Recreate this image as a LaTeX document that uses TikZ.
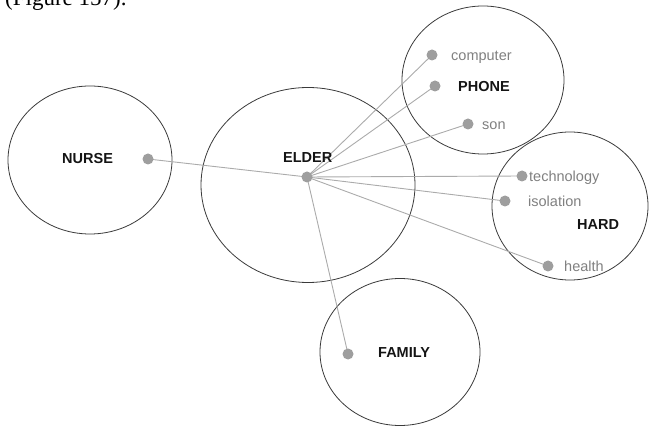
\documentclass[tikz,border=0pt]{standalone}
\usepackage{fontspec}
\setmainfont{Liberation Sans}
\newfontfamily\capfont{Liberation Serif}
\usetikzlibrary{shapes.geometric}

\definecolor{ringcol}{HTML}{3A3A3A}
\definecolor{linkcol}{HTML}{ABABAB}
\definecolor{dotcol}{HTML}{9E9E9E}
\definecolor{termcol}{HTML}{808080}
\definecolor{headcol}{HTML}{141414}

\tikzset{
  ring/.style={ellipse, draw=ringcol, line width=0.8pt, inner sep=0pt, outer sep=0pt},
  dot/.style={circle, fill=dotcol, inner sep=0pt, minimum size=11pt},
  link/.style={draw=linkcol, line width=0.9pt},
  head/.style={anchor=base west, inner sep=0pt, text=headcol, font=\fontsize{14.5}{16}\selectfont\bfseries},
  term/.style={anchor=base west, inner sep=0pt, text=termcol, font=\fontsize{14.5}{16}\selectfont}
}

\begin{document}
\begin{tikzpicture}[x=1pt,y=-1pt]
  \useasboundingbox (0,0) rectangle (650,427);

  % caption line of the preceding paragraph, cut off at the top
  \begin{scope}
    \clip (0,0) rectangle (650,427);
    \node[anchor=base west, inner sep=0pt, font=\capfont\fontsize{23}{25}\selectfont] (cap) at (5,6) {(Figure 157).};
  \end{scope}

  % clusters
  \node[ring, minimum width=164pt, minimum height=148pt] (nurseRing)  at (90,160) {};
  \node[ring, minimum width=214pt, minimum height=195pt] (elderRing)  at (308,185) {};
  \node[ring, minimum width=162pt, minimum height=148pt] (phoneRing)  at (483,80) {};
  \node[ring, minimum width=156pt, minimum height=148pt] (hardRing)   at (570,206) {};
  \node[ring, minimum width=160pt, minimum height=147pt] (familyRing) at (400,352) {};

  % term points
  \coordinate (pNurse)  at (148,159);
  \coordinate (pElder)  at (307,177);
  \coordinate (pComp)   at (432,55);
  \coordinate (pPhone)  at (435,86);
  \coordinate (pSon)    at (468,124);
  \coordinate (pTech)   at (522,176);
  \coordinate (pIsol)   at (505,201);
  \coordinate (pHealth) at (548,266);
  \coordinate (pFamily) at (348,354);

  % links from the central term
  \foreach \t in {pNurse,pComp,pPhone,pSon,pTech,pIsol,pHealth,pFamily}
    \draw[link] (pElder) -- (\t);

  % dots
  \foreach \t in {pNurse,pElder,pComp,pPhone,pSon,pTech,pIsol,pHealth,pFamily}
    \node[dot] (d\t) at (\t) {};

  % labels
  \node[head] (lNurse)  at (62,164)  {NURSE};
  \node[head] (lElder)  at (283,163) {ELDER};
  \node[head] (lPhone)  at (458,92)  {PHONE};
  \node[head] (lHard)   at (577,230) {HARD};
  \node[head] (lFamily) at (378,357) {FAMILY};
  \node[term] (lComp)   at (451,61)  {computer};
  \node[term] (lSon)    at (482,130) {son};
  \node[term] (lTech)   at (529,182) {technology};
  \node[term] (lIsol)   at (528,207) {isolation};
  \node[term] (lHealth) at (564,272) {health};
\end{tikzpicture}
\end{document}
